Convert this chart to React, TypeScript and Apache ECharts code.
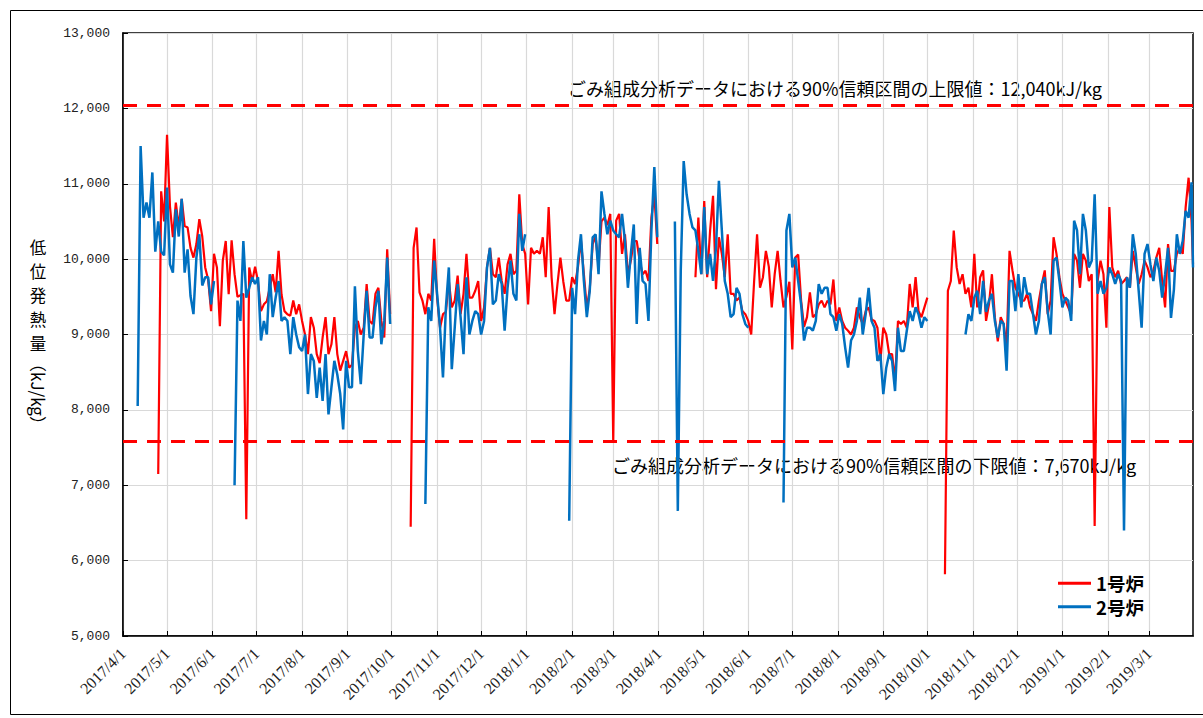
import React, { useEffect, useRef } from 'react';
import * as echarts from 'echarts';

// ---- axis / reference data ----
const START_YEAR = 2017;
const START_MONTH = 4; // April
const DAY_COUNT = 730; // 2017/4/1 .. 2019/3/31
const STEP_DAYS = 2; // one reading every 2 days
const Y_MIN = 5000;
const Y_MAX = 13000;
const Y_INTERVAL = 1000;

const UPPER_LIMIT = 12040;
const LOWER_LIMIT_LINE = 7590;
const UPPER_NOTE = 'ごみ組成分析データにおける90%信頼区間の上限値：12,040kJ/kg';
const LOWER_NOTE = 'ごみ組成分析データにおける90%信頼区間の下限値：7,670kJ/kg';
const Y_TITLE_CHARS = ['低', '位', '発', '熱', '量'];
const Y_TITLE_UNIT = '（kJ/kg）';
const SERIES_NAMES = ['1号炉', '2号炉'];
const SERIES_COLORS = ['#ff0000', '#0070c0'];

// 1号炉 readings, one per 2 days from 2017/4/1
const RED_KJKG: (number | null)[] = [
  null, null, null, null, null, null, null, null, null, null,
  null, null, 7150, 10900, 10500, 11650, 10700, 10290, 10750, 10420,
  10800, 10440, 10420, 10150, 10020, 10200, 10530, 10300, 9890, 9730,
  9310, 10070, 9890, 9110, 9980, 10240, 9535, 10250, 9800, 9500,
  9520, 9540, 6550, 9890, 9700, 9900, 9700, 9310, 9400, 9440,
  9620, 9800, 9560, 10110, 9530, 9310, 9270, 9250, 9450, 9270,
  9400, 9180, 9000, 8740, 9230, 9090, 8740, 8620, 8960, 9230,
  8740, 8870, 9230, 8740, 8520, 8650, 8780, 8560, 8600, 9090,
  9180, 9000, 9090, 9670, 9180, 9140, 9540, 9620, 9180, 8960,
  10130, 9270, null, null, null, null, null, null, 6450, 10150,
  10420, 9560, 9450, 9270, 9540, 9450, 10270, 9490, 9090, 9270,
  9300, 9710, 9360, 9450, 9780, 9270, 9540, 10070, 9490, 9490,
  9580, 9710, 9180, 9360, 9890, 10150, 9800, 9760, 10020, 9710,
  9540, 9930, 10070, 9800, 9845, 10860, 10200, 10070, 9400, 10150,
  10070, 10110, 10070, 10290, 9760, 10690, 9760, 9270, 9670, 10020,
  9700, 9450, 9450, 9760, 9670, 9900, 10250, 9800, 9350, 9600,
  10200, 10300, 9900, 10500, 10550, 10450, 10600, 7570, 10510, 10600,
  10070, 10330, 9800, 9980, 10240, 10240, 9980, 9800, 9845, 9710,
  10550, 10860, 10200, null, null, null, null, null, null, null,
  null, null, null, null, null, 9760, 10550, 9800, 10770, 9760,
  10380, 10840, 9600, 10290, 10070, 9760, 10330, 9540, 9540, 9450,
  9490, 9310, 9270, 9180, 9000, 9710, 10330, 9620, 9760, 10110,
  9900, 9360, 9800, 10110, 9710, 9360, 9500, 9700, 8800, 10020,
  10060, 9450, 9100, 9230, 9560, 9230, 9270, 9400, 9450, 9360,
  9450, 9400, 9730, 9180, 9360, 9180, 9090, 9050, 9000, 9090,
  9360, 9230, 9140, 9310, 9360, 9200, 9180, 9090, 8650, 9090,
  9000, 8740, 8740, 8380, 9180, 9140, 9180, 9090, 9670, 9360,
  9760, 9310, 9230, 9360, 9490, null, null, null, null, null,
  5820, 9580, 9710, 10380, 9890, 9670, 9800, 9540, 9620, 9360,
  10070, 9360, 9760, 9850, 9180, 9400, 9800, 9230, 8910, 9230,
  9140, 8830, 10110, 9850, 9620, 9540, 9450, 9450, 9540, 9360,
  9270, 9180, 9450, 9670, 9850, 9270, 9450, 10290, 10070, 9760,
  9540, 9450, 9360, 9270, 10070, 9980, 9620, 10070, 9980, 9710,
  9800, 6460, 9710, 9980, 9800, 9090, 10690, 9890, 9760, 9845,
  9670, 9710, 9760, 9620, 10110, 9890, 9670, 9800, 9980, 9890,
  9760, 9845, 10020, 10150, 9710, 9360, 10200, 9845, 9845, 10070,
  10150, 10070, 10690, 11080, 10510, 9930,
];

// 2号炉 readings, one per 2 days from 2017/4/1
const BLUE_KJKG: (number | null)[] = [
  null, null, null, null, null, 8050, 11500, 10550, 10750, 10550,
  11150, 10100, 10500, 10100, 10050, 10950, 9930, 9820, 10660, 10300,
  10800, 9820, 10130, 9510, 9270, 10020, 10330, 9650, 9760, 9760,
  9400, 9710, null, null, null, null, null, null, 7000, 9450,
  9180, 10240, 9490, 9620, 9760, 9670, 9760, 8920, 9180, 9000,
  9800, 9230, 9490, 9710, 9180, 9230, 9180, 8740, 9230, 9000,
  8830, 8780, 9000, 8210, 8740, 8650, 8160, 8560, 8120, 8740,
  7940, 8300, 8650, 8470, 8210, 7740, 8650, 8300, 8300, 9640,
  8780, 8340, 9000, 9580, 8960, 8960, 9360, 9580, 8870, 9180,
  10020, 9140, null, null, null, null, null, null, null, null,
  null, null, null, 6750, 9360, 9180, 9980, 9540, 9090, 8430,
  9360, 9890, 8540, 9090, 9670, 9230, 8740, 9760, 9000, 9180,
  9310, 9270, 9000, 9180, 9890, 10150, 9400, 9450, 9800, 9670,
  9050, 9620, 9980, 9540, 9450, 10600, 10110, 10330, null, null,
  null, null, null, null, null, null, null, null, null, null,
  null, null, 6530, 9620, 9270, 9980, 10330, 9710, 9230, 9580,
  10290, 10330, 9800, 10900, 10600, 10330, 10510, 10380, 10330, 10290,
  10600, 10240, 9620, 10070, 10460, 9140, 10150, 9710, 9670, 9180,
  10380, 11220, 10290, null, null, null, null, null, 10500, 6660,
  9845, 11300, 10860, 10600, 10420, 10380, 10110, 9800, 10690, 9800,
  10070, 9710, 10150, 11040, 10380, 9710, 9540, 9230, 9270, 9620,
  9540, 9270, 9140, 9090, null, null, null, null, null, null,
  null, null, null, null, null, 6770, 10380, 10600, 9890, 10020,
  9710, 9400, 8920, 9090, 9090, 9050, 9180, 9670, 9540, 9620,
  9620, 9270, 9230, 9050, 9270, 9140, 8830, 8560, 8920, 9000,
  9180, 9490, 9000, 9270, 9620, 9180, 9090, 8650, 8740, 8210,
  8560, 8740, 8650, 8250, 9090, 8780, 8780, 9050, 9310, 9180,
  9360, 9270, 9090, 9230, 9180, null, null, null, null, null,
  null, null, null, null, null, null, null, 9000, 9270, 9180,
  9490, 9580, 9270, 9710, 9300, 9450, 9540, 9180, 8960, 9180,
  9140, 8520, 9710, 9710, 9310, 9800, 9360, 9760, 9540, 9540,
  9270, 9000, 9180, 9670, 9760, 9310, 9000, 9980, 10020, 9710,
  9360, 9490, 9450, 9180, 10510, 10380, 9800, 10600, 10380, 9890,
  9980, 10860, 9540, 9710, 9540, 9620, 9890, 9800, 9670, 9800,
  9710, 6400, 9760, 9620, 10330, 10070, 9580, 9090, 10070, 10200,
  9930, 9710, 10020, 9845, 9490, 9800, 10150, 9220, 9600, 10330,
  10070, 10240, 10640, 10550, 11020, 9890,
];

function buildDates(): string[] {
  const out: string[] = [];
  const base = Date.UTC(START_YEAR, START_MONTH - 1, 1);
  for (let d = 0; d < DAY_COUNT; d++) {
    const t = new Date(base + d * 86400000);
    out.push(`${t.getUTCFullYear()}/${t.getUTCMonth() + 1}/${t.getUTCDate()}`);
  }
  return out;
}

const isMonthStart = (_: number, value: string) => value.split('/')[2] === '1';

export default function App() {
  const ref = useRef<HTMLDivElement>(null);

  useEffect(() => {
    document.body.style.margin = '0';
    if (!ref.current) return;
    const chart = echarts.init(ref.current, undefined, { renderer: 'svg' });
    const dates = buildDates();
    const toPairs = (vals: (number | null)[]) =>
      vals.map((v, i) => [dates[Math.min(i * STEP_DAYS, dates.length - 1)], v == null ? '-' : v]);

    const cjk = '"Noto Sans CJK JP", "Noto Sans", sans-serif';

    const titleChars = Y_TITLE_CHARS.map((ch, i) => ({
      type: 'text',
      x: 38,
      y: 247 + i * 24,
      style: {
        text: ch,
        fontFamily: cjk,
        fontSize: 16.5,
        fill: '#000',
        align: 'center',
        verticalAlign: 'middle',
      },
    }));

    chart.setOption({
      animation: false,
      backgroundColor: '#ffffff',
      grid: {
        left: 123,
        right: 10,
        top: 33,
        bottom: 82,
        show: true,
        borderColor: '#000',
        borderWidth: 1.5,
        containLabel: false,
      },
      legend: {
        orient: 'vertical',
        left: 1053,
        top: 569,
        icon: 'rect',
        itemWidth: 33,
        itemHeight: 3,
        itemGap: 5,
        data: SERIES_NAMES,
        textStyle: {
          fontFamily: cjk,
          fontSize: 18.5,
          fontWeight: 'bold',
          color: '#000',
          lineHeight: 18,
        },
      },
      xAxis: {
        type: 'category',
        data: dates,
        boundaryGap: false,
        axisLine: { lineStyle: { color: '#000', width: 1.5 } },
        axisTick: { inside: true, length: 5, interval: isMonthStart, lineStyle: { color: '#000' } },
        splitLine: { show: true, interval: isMonthStart, lineStyle: { color: '#d9d9d9', width: 1.2 } },
        axisLabel: {
          interval: isMonthStart,
          rotate: 45,
          margin: 15,
          fontFamily: '"Liberation Serif", "DejaVu Serif", serif',
          fontSize: 16,
          color: '#222',
        },
      },
      yAxis: {
        type: 'value',
        min: Y_MIN,
        max: Y_MAX,
        interval: Y_INTERVAL,
        axisLine: { show: true, lineStyle: { color: '#000', width: 1.5 } },
        axisTick: { show: true, inside: true, length: 5, lineStyle: { color: '#000' } },
        splitLine: { show: true, lineStyle: { color: '#d9d9d9', width: 1.2 } },
        axisLabel: {
          margin: 13,
          fontFamily: '"Liberation Mono", monospace',
          fontSize: 13,
          color: '#222',
          formatter: (v: number) => v.toLocaleString('en-US'),
        },
      },
      series: [
        {
          name: SERIES_NAMES[0],
          type: 'line',
          data: toPairs(RED_KJKG),
          showSymbol: false,
          symbol: 'none',
          connectNulls: false,
          color: SERIES_COLORS[0],
          lineStyle: { color: SERIES_COLORS[0], width: 2.2 },
          markLine: {
            silent: true,
            symbol: ['none', 'none'],
            label: { show: false },
            lineStyle: { color: '#ff0000', width: 3, type: [14, 10] },
            data: [{ yAxis: UPPER_LIMIT }, { yAxis: LOWER_LIMIT_LINE }],
          },
        },
        {
          name: SERIES_NAMES[1],
          type: 'line',
          data: toPairs(BLUE_KJKG),
          showSymbol: false,
          symbol: 'none',
          connectNulls: false,
          color: SERIES_COLORS[1],
          lineStyle: { color: SERIES_COLORS[1], width: 2.5 },
        },
      ],
      graphic: [
        {
          type: 'rect',
          shape: { x: 10.5, y: 10.5, width: 1200, height: 704 },
          style: { fill: 'none', stroke: '#000', lineWidth: 1 },
          silent: true,
        },
        {
          type: 'text',
          x: 568,
          y: 88,
          style: { text: UPPER_NOTE, fontFamily: cjk, fontSize: 18, fill: '#000', verticalAlign: 'middle', align: 'left' },
        },
        {
          type: 'text',
          x: 612,
          y: 465,
          style: { text: LOWER_NOTE, fontFamily: cjk, fontSize: 18, fill: '#000', verticalAlign: 'middle', align: 'left' },
        },
        ...titleChars,
        {
          type: 'text',
          x: 38,
          y: 394,
          rotation: -Math.PI / 2,
          style: {
            text: Y_TITLE_UNIT,
            fontFamily: cjk,
            fontSize: 17,
            fill: '#000',
            align: 'center',
            verticalAlign: 'middle',
          },
        },
      ],
    });
    return () => chart.dispose();
  }, []);

  return <div ref={ref} style={{ width: 1203, height: 718 }} />;
}
